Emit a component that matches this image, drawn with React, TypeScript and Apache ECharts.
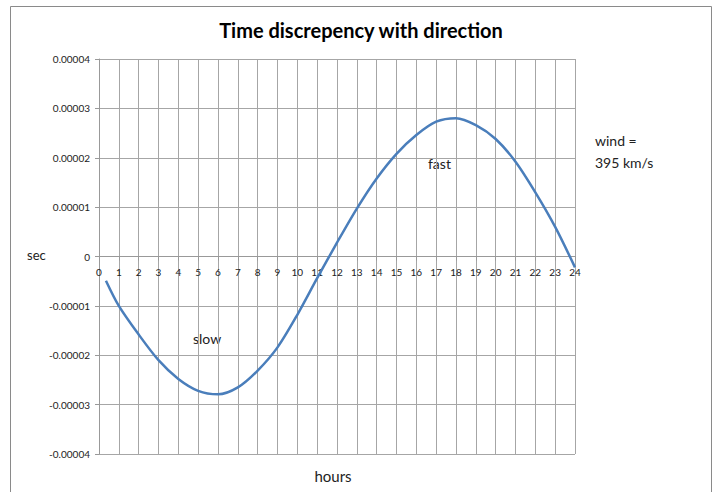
import React, { useEffect, useRef } from "react";
import * as echarts from "echarts";

const hours = [0.35, 1, 2, 3, 4, 5, 6, 7, 8, 9, 10, 11, 12, 13, 14, 15, 16, 17, 18, 19, 20, 21, 22, 23, 24];
const discrepancy = [
  -0.0000049, -0.00001, -0.0000158, -0.000021, -0.0000248, -0.0000272, -0.0000279, -0.0000265,
  -0.0000231, -0.0000184, -0.0000118, -0.0000044, 0.0000028, 0.0000097, 0.0000158, 0.0000208,
  0.0000246, 0.0000273, 0.000028, 0.0000266, 0.0000238, 0.0000192, 0.000013, 0.000006, -0.0000022,
];
const xTicks = { min: 0, max: 24, interval: 1 };
const yTicks = { min: -0.00004, max: 0.00004, interval: 0.00001 };
const titleText = "Time discrepency with direction";
const yName = "sec";
const xName = "hours";
const notes = [
  { text: "slow", x: 193, y: 338 },
  { text: "fast", x: 428, y: 163 },
  { text: "wind =", x: 595, y: 140 },
  { text: "395 km/s", x: 595, y: 162 },
];

const FONT = "Lato, 'Open Sans', sans-serif";
const GRID = "#a6a6a6";
const TXT = "#222";
const GRID_TOP = 59;
const GRID_BOTTOM = 38;
const CHART_H = 492;

export default function App() {
  const ref = useRef<HTMLDivElement>(null);
  useEffect(() => {
    document.body.style.margin = "0";
    const chart = echarts.init(ref.current!, null, { renderer: "svg" });
    const data = hours.map((h, i) => [h, discrepancy[i]]);
    const plotH = CHART_H - GRID_TOP - GRID_BOTTOM;
    // place x axis on the zero value line of the y axis
    const zeroFrac = (0 - yTicks.min) / (yTicks.max - yTicks.min);
    const xOffset = -plotH * zeroFrac;
    chart.setOption({
      animation: false,
      backgroundColor: "#fff",
      textStyle: { fontFamily: FONT },
      grid: { left: 99, right: 140, top: GRID_TOP, bottom: GRID_BOTTOM, containLabel: false },
      xAxis: {
        type: "value",
        position: "bottom",
        offset: xOffset,
        min: xTicks.min,
        max: xTicks.max,
        interval: xTicks.interval,
        axisLine: { onZero: false, lineStyle: { color: "#999", width: 1 } },
        axisTick: { show: true, length: 4, lineStyle: { color: "#999" } },
        axisLabel: { color: TXT, fontSize: 10, margin: 10, fontFamily: FONT },
        splitLine: { show: true, lineStyle: { color: GRID, width: 1 } },
      },
      yAxis: {
        type: "value",
        min: yTicks.min,
        max: yTicks.max,
        interval: yTicks.interval,
        axisLine: { show: true, onZero: false, lineStyle: { color: "#999", width: 1 } },
        axisTick: { show: true, length: 4, lineStyle: { color: "#999" } },
        axisLabel: {
          color: TXT,
          fontSize: 10,
          margin: 9,
          fontFamily: FONT,
          formatter: (v: number) => (Math.abs(v) < 1e-12 ? "0" : v.toFixed(5)),
        },
        splitLine: { show: true, lineStyle: { color: GRID, width: 1 } },
      },
      series: [
        {
          type: "line",
          data,
          smooth: 0.3,
          showSymbol: false,
          symbol: "none",
          lineStyle: { color: "#4a7ebb", width: 2.5 },
        },
      ],
      graphic: [
        {
          type: "rect",
          shape: { x: 10.5, y: 6.5, width: 701, height: 520 },
          style: { fill: "none", stroke: "#8a8a8a", lineWidth: 1 },
          silent: true,
          z: -10,
        },
        {
          type: "text",
          x: 361,
          y: 30,
          style: {
            text: titleText,
            fontSize: 20,
            fontWeight: "bold",
            fontFamily: FONT,
            fill: "#000",
            textAlign: "center",
            textVerticalAlign: "middle",
          },
        },
        {
          type: "text",
          x: 27,
          y: 255,
          style: { text: yName, fontSize: 13, fontFamily: FONT, fill: TXT, textVerticalAlign: "middle" },
        },
        {
          type: "text",
          x: 333,
          y: 476,
          style: {
            text: xName,
            fontSize: 15,
            fontFamily: FONT,
            fill: TXT,
            textAlign: "center",
            textVerticalAlign: "middle",
          },
        },
        ...notes.map((n) => ({
          type: "text",
          x: n.x,
          y: n.y,
          style: { text: n.text, fontSize: 14, fontFamily: FONT, fill: TXT, textVerticalAlign: "middle" },
        })),
      ],
    });
    return () => chart.dispose();
  }, []);
  return <div ref={ref} style={{ width: 715, height: 492 }} />;
}
